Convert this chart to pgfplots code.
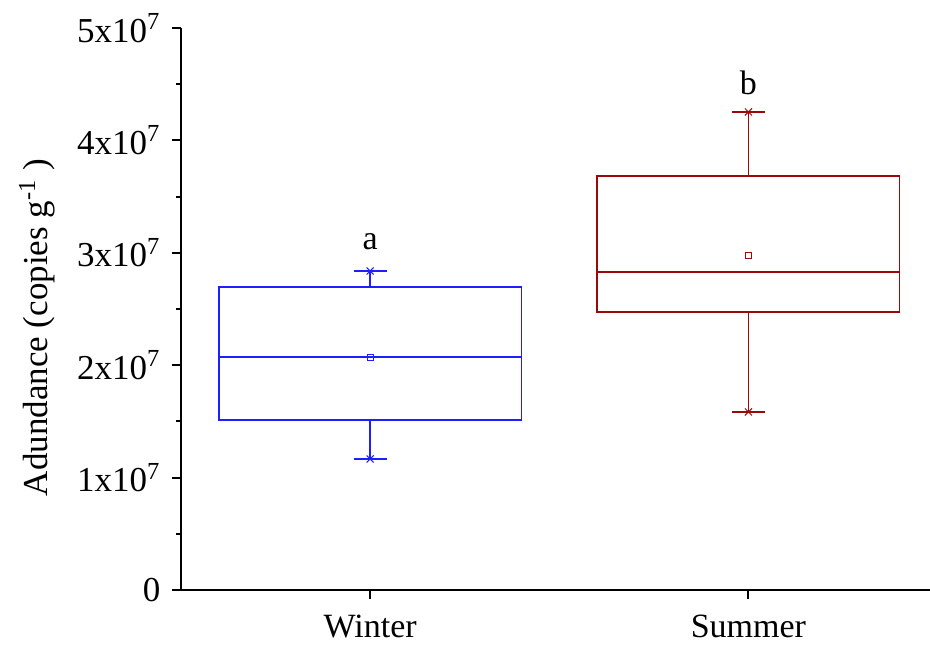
\documentclass[border=0pt]{standalone}
\usepackage{fontspec}
\setmainfont{Liberation Serif}
\usepackage{pgfplots}
\pgfplotsset{compat=1.18}
\usepgfplotslibrary{statistics}
\definecolor{wblue}{RGB}{30,30,255}
\definecolor{sred}{RGB}{155,10,10}
\begin{document}
\fontsize{17}{20}\selectfont
\begin{tikzpicture}
\path[use as bounding box] (-90.5pt,-27.5pt) rectangle (374.5pt,295pt);
\begin{axis}[
  at={(0,0)}, anchor=south west,
  scale only axis, width=374.5pt, height=281pt,
  xmin=0.5, xmax=2.48, ymin=0, ymax=5e7,
  axis x line*=bottom, axis y line*=left,
  axis line style={-, line width=1pt},
  xtick={1,2}, xticklabels={Winter,Summer},
  ytick={0,1e7,2e7,3e7,4e7,5e7},
  yticklabels={0, 1x10\textsuperscript{7}, 2x10\textsuperscript{7}, 3x10\textsuperscript{7}, 4x10\textsuperscript{7}, 5x10\textsuperscript{7}},
  minor ytick={0.5e7,1.5e7,2.5e7,3.5e7,4.5e7},
  tick align=outside,
  major tick length=4.5pt, minor tick length=2.5pt,
  every tick/.style={line width=1pt, black},
  scaled y ticks=false,
  yticklabel style={font=\fontsize{17.5}{20}\selectfont},
  xticklabel style={font=\fontsize{17}{20}\selectfont, yshift=-2pt},
  ylabel={Adundance (copies g\textsuperscript{-1} )},
  ylabel style={font=\fontsize{17.5}{20}\selectfont, at={(axis description cs:-0.192,0.467)}, anchor=center},
  boxplot/draw direction=y,
  clip=false,
]
\addplot[boxplot prepared={draw position=1, lower whisker=1.166e7, lower quartile=1.512e7, median=2.073e7, upper quartile=2.696e7, upper whisker=2.838e7, box extend=0.8, whisker extend=0.087}, draw=wblue, line width=0.75pt] coordinates {};
\addplot[only marks, mark=x, mark size=2.5pt, wblue, line width=0.5pt] coordinates {(1,2.838e7) (1,1.166e7)};
\addplot[only marks, mark=square, mark size=1.5pt, wblue, line width=0.5pt] coordinates {(1,2.07e7)};
\addplot[boxplot prepared={draw position=2, lower whisker=1.584e7, lower quartile=2.473e7, median=2.829e7, upper quartile=3.683e7, upper whisker=4.253e7, box extend=0.8, whisker extend=0.087}, draw=sred, line width=0.75pt] coordinates {};
\addplot[only marks, mark=x, mark size=2.5pt, sred, line width=0.5pt] coordinates {(2,4.253e7) (2,1.584e7)};
\addplot[only marks, mark=square, mark size=1.5pt, sred, line width=0.5pt] coordinates {(2,2.98e7)};
\node[font=\fontsize{17}{20}\selectfont] at (axis cs:1,3.1e7) {a};
\node[font=\fontsize{17}{20}\selectfont] at (axis cs:2,4.51e7) {b};
\end{axis}
\end{tikzpicture}
\end{document}
